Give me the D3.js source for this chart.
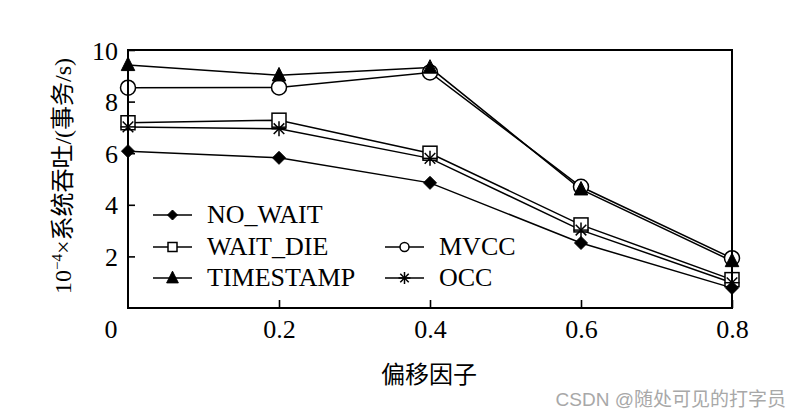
<!DOCTYPE html>
<html>
<head>
<meta charset="utf-8">
<script src="https://cdn.jsdelivr.net/npm/d3@7"></script>
<style>
  html, body { margin: 0; padding: 0; background: #fff; }
  svg { display: block; }
</style>
</head>
<body>
<svg id="chart" width="801" height="418"></svg>
<script>
// ---- data ----
const xValues = [0, 0.2, 0.4, 0.6, 0.8];
const noWait    = [6.08, 5.82, 4.85, 2.52, 0.78];
const waitDie   = [7.18, 7.28, 6.0, 3.22, 1.1];
const timestamp = [9.42, 9.02, 9.32, 4.6, 1.82];
const mvcc      = [8.54, 8.55, 9.13, 4.7, 1.93];
const occ       = [7.02, 6.95, 5.8, 3.02, 0.98];
const seriesNames = ["NO_WAIT", "WAIT_DIE", "TIMESTAMP", "MVCC", "OCC"];
const xTicks = [0.2, 0.4, 0.6, 0.8];
const yTicks = [2, 4, 6, 8, 10];
const xLabel = "偏移因子";
const watermark = "CSDN @随处可见的打字员";

const series = [
  { name: seriesNames[0], values: noWait,    marker: "diamond" },
  { name: seriesNames[1], values: waitDie,   marker: "square" },
  { name: seriesNames[2], values: timestamp, marker: "triangle" },
  { name: seriesNames[3], values: mvcc,      marker: "circle" },
  { name: seriesNames[4], values: occ,       marker: "star" }
];

// ---- layout ----
const svg = d3.select("#chart");
const pL = 128, pR = 732, pT = 50, pB = 308;
const x = d3.scaleLinear().domain([0, 0.8]).range([pL, pR]);
const y = d3.scaleLinear().domain([0, 10]).range([pB, pT]);
const serif = "'Liberation Serif', 'Times New Roman', 'Noto Sans CJK SC', serif";

function drawMarker(g, type, cx, cy, big) {
  const sw = 1.5;
  if (type === "diamond") {
    const r = big ? 6.5 : 5;
    g.append("path").attr("d", `M${cx},${cy - r}L${cx + r},${cy}L${cx},${cy + r}L${cx - r},${cy}Z`)
      .attr("fill", "#000").attr("stroke", "#000").attr("stroke-width", 1);
  } else if (type === "square") {
    const r = big ? 7 : 4.5;
    g.append("rect").attr("x", cx - r).attr("y", cy - r).attr("width", 2 * r).attr("height", 2 * r)
      .attr("fill", "#fff").attr("stroke", "#000").attr("stroke-width", sw);
  } else if (type === "triangle") {
    const r = big ? 7.5 : 6.5;
    g.append("path").attr("d", `M${cx},${cy - r * 1.05}L${cx + r * 0.9},${cy + r * 0.75}L${cx - r * 0.9},${cy + r * 0.75}Z`)
      .attr("fill", "#000").attr("stroke", "#000").attr("stroke-width", 1);
  } else if (type === "circle") {
    const r = big ? 7.5 : 4.5;
    g.append("circle").attr("cx", cx).attr("cy", cy).attr("r", r)
      .attr("fill", "#fff").attr("stroke", "#000").attr("stroke-width", sw);
  } else if (type === "star") {
    const r = big ? 7.5 : 6;
    [90, 45, 135, 0].forEach(a => {
      const rad = a * Math.PI / 180;
      g.append("line")
        .attr("x1", cx - r * Math.cos(rad)).attr("y1", cy - r * Math.sin(rad))
        .attr("x2", cx + r * Math.cos(rad)).attr("y2", cy + r * Math.sin(rad))
        .attr("stroke", "#000").attr("stroke-width", 1.5);
    });
  }
}

// ---- lines ----
const line = d3.line().x((d, i) => x(xValues[i])).y(d => y(d));
const lineG = svg.append("g");
series.forEach(s => {
  lineG.append("path").attr("d", line(s.values))
    .attr("fill", "none").attr("stroke", "#000").attr("stroke-width", 1.5);
});

// ---- markers ----
const markerG = svg.append("g");
[1, 3, 0, 2, 4].forEach(k => {
  const s = series[k];
  s.values.forEach((v, i) => drawMarker(markerG, s.marker, x(xValues[i]), y(v), true));
});

// ---- frame ----
svg.append("rect").attr("x", pL).attr("y", pT).attr("width", pR - pL).attr("height", pB - pT)
  .attr("fill", "none").attr("stroke", "#000").attr("stroke-width", 2);

// ---- axes (ticks inward) ----
const xAxis = d3.axisBottom(x).tickValues(xTicks).tickSize(-8).tickPadding(8).tickFormat(d3.format(".1f"));
const gx = svg.append("g").attr("transform", `translate(0,${pB})`).call(xAxis);
gx.select(".domain").remove();
gx.selectAll("line").attr("stroke", "#000").attr("stroke-width", 1.6);
gx.selectAll("text").attr("font-family", serif).attr("font-size", 26).attr("fill", "#000").attr("dy", "0.85em");

const yAxis = d3.axisLeft(y).tickValues(yTicks).tickSize(-7).tickPadding(10).tickFormat(d3.format("d"));
const gy = svg.append("g").attr("transform", `translate(${pL},0)`).call(yAxis);
gy.select(".domain").remove();
gy.selectAll("line").attr("stroke", "#000").attr("stroke-width", 1.6);
gy.selectAll("text").attr("font-family", serif).attr("font-size", 26).attr("fill", "#000").attr("dy", "0.35em");

// shared origin label
svg.append("text").attr("x", x(0) - 17).attr("y", pB + 30)
  .attr("text-anchor", "middle").attr("font-family", serif).attr("font-size", 26).text("0");

// ---- axis titles ----
svg.append("text").attr("x", (pL + pR) / 2 - 1).attr("y", 383)
  .attr("text-anchor", "middle").attr("font-family", "'Noto Sans CJK SC', sans-serif")
  .attr("font-size", 24).attr("fill", "#000").text(xLabel);

const yt = svg.append("text")
  .attr("transform", `translate(71,${(pT + pB) / 2 - 3}) rotate(-90)`)
  .attr("text-anchor", "middle").attr("font-family", serif).attr("font-size", 24).attr("fill", "#000");
yt.append("tspan").text("10");
yt.append("tspan").attr("font-size", 15).attr("dy", -9).text("−4");
yt.append("tspan").attr("dy", 9).text("×系统吞吐/(事务/s)");

// ---- legend ----
const legendItems = [
  { k: 0, lx: 153, ly: 215 },
  { k: 1, lx: 153, ly: 247 },
  { k: 2, lx: 153, ly: 278 },
  { k: 3, lx: 385, ly: 247 },
  { k: 4, lx: 385, ly: 278 }
];
const legG = svg.append("g");
legendItems.forEach(it => {
  const s = series[it.k];
  legG.append("line").attr("x1", it.lx).attr("x2", it.lx + 39).attr("y1", it.ly).attr("y2", it.ly)
    .attr("stroke", "#000").attr("stroke-width", 1.6);
  drawMarker(legG, s.marker, it.lx + 19.5, it.ly, false);
  legG.append("text").attr("x", it.lx + 54).attr("y", it.ly + 8)
    .attr("font-family", serif).attr("font-size", 26).attr("fill", "#000").text(s.name);
});

// ---- watermark ----
svg.append("text").attr("x", 786).attr("y", 406).attr("text-anchor", "end")
  .attr("font-family", "'Liberation Sans', 'Noto Sans CJK SC', sans-serif")
  .attr("font-size", 19).attr("fill", "#a8a8a8").text(watermark);
</script>
</body>
</html>
